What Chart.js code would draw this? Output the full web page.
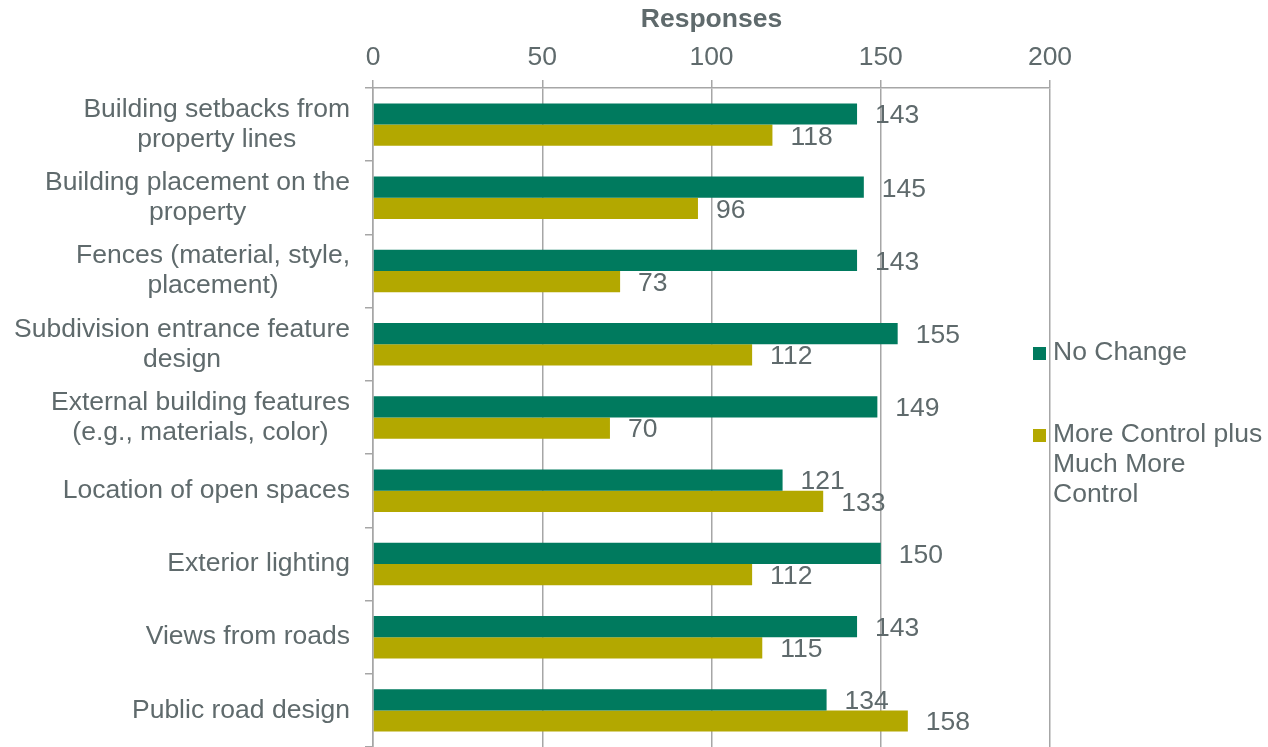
<!DOCTYPE html>
<html>
<head>
<meta charset="utf-8">
<script src="https://cdn.jsdelivr.net/npm/chart.js@4"></script>
<style>
  html, body { margin: 0; padding: 0; background: #fff; }
  #wrap { width: 1268px; height: 747px; }
</style>
</head>
<body>
<div id="wrap"><canvas id="chart"></canvas></div>
<script>
const categories = [
  ['Building setbacks from', 'property lines'],
  ['Building placement on the', 'property'],
  ['Fences (material, style,', 'placement)'],
  ['Subdivision entrance feature', 'design'],
  ['External building features', '(e.g., materials, color)'],
  ['Location of open spaces'],
  ['Exterior lighting'],
  ['Views from roads'],
  ['Public road design']
];
const noChange = [143, 145, 143, 155, 149, 121, 150, 143, 134];
const moreControl = [118, 96, 73, 112, 70, 133, 112, 115, 158];
const seriesNames = ['No Change', ['More Control plus', 'Much More', 'Control']];
const xTicks = [0, 50, 100, 150, 200];

const textColor = '#5f6a6c';
const gridColor = '#a6a6a6';
const font = "'Liberation Sans', Arial, sans-serif";
const fs = 26.5;

// category labels: block right-aligned, lines centred on each other
const catLabels = {
  id: 'catLabels',
  afterDraw(chart) {
    const { ctx, scales: { y } } = chart;
    ctx.save();
    ctx.font = `${fs}px ${font}`;
    ctx.fillStyle = textColor;
    ctx.textBaseline = 'middle';
    ctx.textAlign = 'center';
    const right = y.right - 23;
    const lh = 30;
    categories.forEach((lines, i) => {
      const cy = y.getPixelForTick(i);
      const w = Math.max(...lines.map(l => ctx.measureText(l).width));
      const cx = right - w / 2;
      lines.forEach((l, k) => {
        ctx.fillText(l, cx, cy + (k - (lines.length - 1) / 2) * lh);
      });
    });
    ctx.restore();
  }
};

const valueLabels = {
  id: 'valueLabels',
  afterDatasetsDraw(chart) {
    const { ctx } = chart;
    ctx.save();
    ctx.font = `${fs}px ${font}`;
    ctx.fillStyle = textColor;
    ctx.textBaseline = 'middle';
    ctx.textAlign = 'left';
    chart.data.datasets.forEach((ds, di) => {
      chart.getDatasetMeta(di).data.forEach((bar, i) => {
        ctx.fillText(String(ds.data[i]), bar.x + 18, bar.y + 2);
      });
    });
    ctx.restore();
  }
};

const sideLegend = {
  id: 'sideLegend',
  afterDraw(chart) {
    const { ctx, chartArea } = chart;
    ctx.save();
    ctx.font = `${fs}px ${font}`;
    ctx.textBaseline = 'middle';
    ctx.textAlign = 'left';
    const x0 = chartArea.right - 17;
    const starts = [353, 435];
    chart.data.datasets.forEach((ds, di) => {
      const lines = [].concat(seriesNames[di]);
      const y0 = starts[di];
      ctx.fillStyle = ds.backgroundColor;
      ctx.fillRect(x0, y0 - 6, 13, 13);
      ctx.fillStyle = textColor;
      lines.forEach((l, k) => ctx.fillText(l, x0 + 20, y0 + k * 30));
    });
    ctx.restore();
  }
};

new Chart(document.getElementById('chart'), {
  type: 'bar',
  data: {
    labels: categories,
    datasets: [
      { label: 'No Change', data: noChange, backgroundColor: '#007a5e' },
      { label: 'More Control plus Much More Control', data: moreControl, backgroundColor: '#b3a800' }
    ]
  },
  options: {
    indexAxis: 'y',
    responsive: true,
    maintainAspectRatio: false,
    animation: false,
    layout: { padding: { left: 0, right: 218, top: 0, bottom: 0 } },
    datasets: { bar: { barPercentage: 1, categoryPercentage: 0.58 } },
    plugins: { legend: { display: false }, tooltip: { enabled: false } },
    scales: {
      x: {
        position: 'top',
        min: 0,
        max: 200,
        afterBuildTicks(scale) { scale.ticks = xTicks.map(v => ({ value: v })); },
        afterFit(scale) { scale.height = 88; },
        title: {
          display: true,
          text: 'Responses',
          color: textColor,
          font: { family: font, size: fs, weight: 'bold' },
          padding: { top: 4, bottom: 0 }
        },
        ticks: { color: textColor, font: { family: font, size: fs }, padding: 6 },
        grid: { color: gridColor, lineWidth: 1.5, tickLength: 8 },
        border: { color: gridColor, width: 1.5 }
      },
      y: {
        afterFit(scale) { scale.width = 373; },
        ticks: { display: false },
        grid: { color: gridColor, lineWidth: 1.5, tickLength: 8, drawOnChartArea: false, offset: true },
        border: { color: gridColor, width: 1.5 }
      }
    }
  },
  plugins: [catLabels, valueLabels, sideLegend]
});
</script>
</body>
</html>
